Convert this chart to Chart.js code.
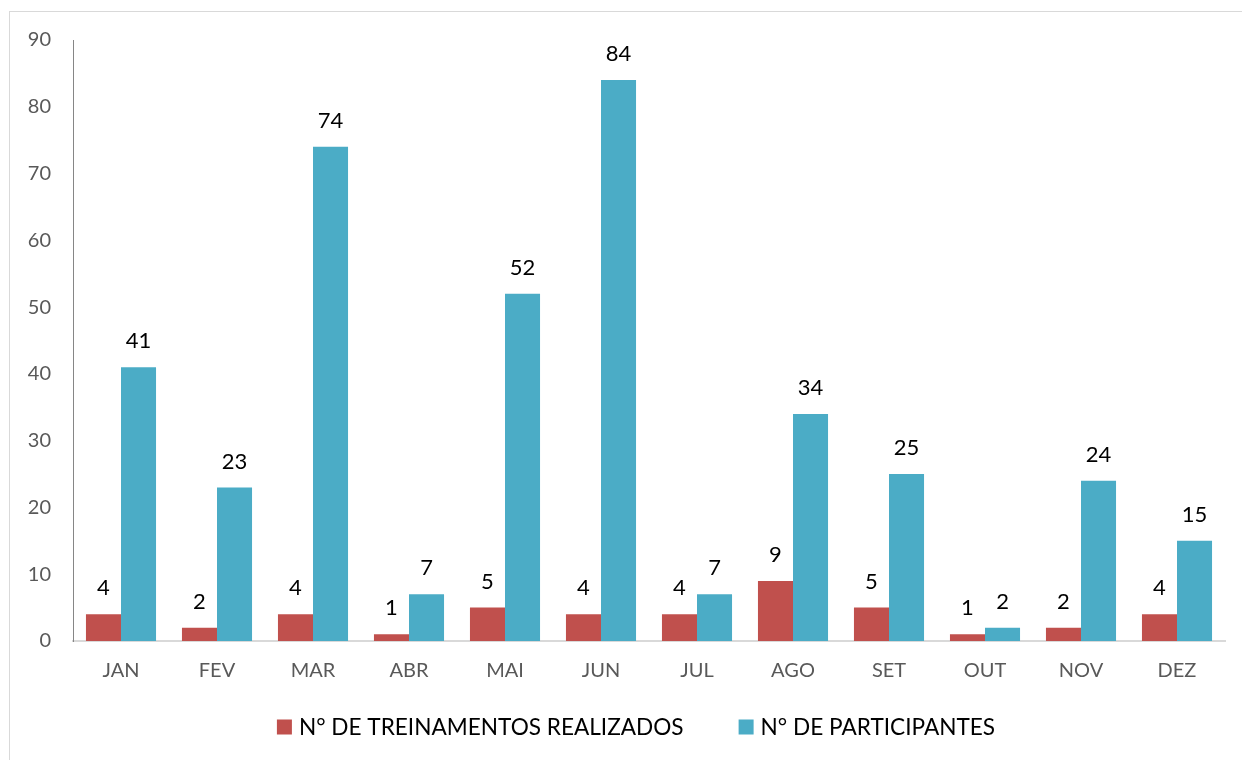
<!DOCTYPE html>
<html>
<head>
<meta charset="utf-8">
<script src="https://cdn.jsdelivr.net/npm/chart.js@4.4.1/dist/chart.umd.min.js"></script>
<style>
    html, body { margin: 0; padding: 0; background: #fff; }
    #wrap { position: relative; width: 1242px; height: 760px; overflow: hidden; }
    #frame {
        position: absolute; left: 9px; top: 11px; width: 1250px; height: 780px;
        border: 1.5px solid #d9d9d9; box-sizing: border-box;
    }
    canvas { position: absolute; left: 0; top: 0; }
</style>
</head>
<body>
<div id="wrap">
    <div id="frame"></div>
    <canvas id="chart" width="1242" height="760"></canvas>
</div>
<script>
// Data
const months = ['JAN', 'FEV', 'MAR', 'ABR', 'MAI', 'JUN', 'JUL', 'AGO', 'SET', 'OUT', 'NOV', 'DEZ'];
const treinamentos = [4, 2, 4, 1, 5, 4, 4, 9, 5, 1, 2, 4];
const participantes = [41, 23, 74, 7, 52, 84, 7, 34, 25, 2, 24, 15];
const yTicks = [0, 10, 20, 30, 40, 50, 60, 70, 80, 90];

const FONT = 'Lato, "Open Sans", sans-serif';

// Value labels above each bar
const barLabels = {
    id: 'barLabels',
    afterDatasetsDraw(chart) {
        const ctx = chart.ctx;
        ctx.save();
        ctx.font = '22px ' + FONT;
        ctx.fillStyle = '#000';
        ctx.textAlign = 'center';
        ctx.textBaseline = 'bottom';
        chart.data.datasets.forEach((ds, i) => {
            chart.getDatasetMeta(i).data.forEach((bar, j) => {
                ctx.fillText(ds.data[j], bar.x, bar.y - 15);
            });
        });
        ctx.restore();
    }
};

// Legend under the axis (Excel style spacing)
const bottomLegend = {
    id: 'bottomLegend',
    afterDraw(chart) {
        const ctx = chart.ctx;
        const box = 15, gap = 7, spacing = 55;
        const cx = 636, cy = 727;
        ctx.save();
        ctx.font = '22.6px ' + FONT;
        ctx.textBaseline = 'middle';
        ctx.textAlign = 'left';
        const sets = chart.data.datasets;
        const widths = sets.map(ds => box + gap + ctx.measureText(ds.label).width);
        const total = widths.reduce((a, b) => a + b, 0) + spacing * (sets.length - 1);
        let x = cx - total / 2;
        sets.forEach((ds, i) => {
            ctx.fillStyle = ds.backgroundColor;
            ctx.fillRect(x, cy - box / 2, box, box);
            ctx.fillStyle = '#000';
            ctx.fillText(ds.label, x + box + gap, cy + 1);
            x += widths[i] + spacing;
        });
        ctx.restore();
    }
};

const ctx = document.getElementById('chart').getContext('2d');
new Chart(ctx, {
    type: 'bar',
    data: {
        labels: months,
        datasets: [
            {
                label: 'N° DE TREINAMENTOS REALIZADOS',
                data: treinamentos,
                backgroundColor: '#C0504D'
            },
            {
                label: 'N° DE PARTICIPANTES',
                data: participantes,
                backgroundColor: '#4BACC6'
            }
        ]
    },
    options: {
        responsive: false,
        animation: false,
        datasets: {
            bar: { categoryPercentage: 0.73, barPercentage: 1.0 }
        },
        layout: {
            padding: { top: 40, right: 17, left: 20, bottom: 69 }
        },
        plugins: {
            tooltip: { enabled: false },
            legend: { display: false }
        },
        scales: {
            x: {
                afterFit: (axis) => { axis.height = 50; },
                grid: { display: false },
                border: { color: '#d9d9d9', width: 2 },
                ticks: {
                    color: '#595959',
                    font: { family: FONT, size: 20 },
                    padding: 10
                }
            },
            y: {
                min: 0,
                max: 90,
                afterBuildTicks: (axis) => { axis.ticks = yTicks.map(v => ({ value: v })); },
                afterFit: (axis) => { axis.width = 53; },
                grid: { display: false },
                border: { color: '#868686', width: 1 },
                ticks: {
                    color: '#595959',
                    font: { family: FONT, size: 20 },
                    padding: 14
                }
            }
        }
    },
    plugins: [barLabels, bottomLegend]
});
</script>
</body>
</html>
